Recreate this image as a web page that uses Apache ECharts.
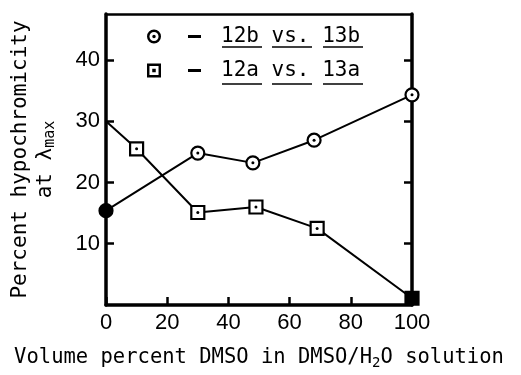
<!DOCTYPE html>
<html>
<head>
<meta charset="utf-8">
<script src="https://cdn.jsdelivr.net/npm/echarts@6/dist/echarts.min.js"></script>
<style>
  html, body { margin: 0; background: #fff; }
  #chart { width: 521px; height: 375px; }
</style>
</head>
<body>
<div id="chart"></div>
<script>
// values
const xTicks = [0, 20, 40, 60, 80, 100];
const yTicks = [10, 20, 30, 40];

const dmsoB = [0, 30, 48, 68, 100];
const hypoB = [15.4, 24.8, 23.2, 26.9, 34.3];

const dmsoA = [0, 10, 30, 49, 69, 100];
const hypoA = [30, 25.5, 15.1, 16, 12.5, 1.1];

const nameB = '12b vs. 13b';
const nameA = '12a vs. 13a';

const MONO = '"DejaVu Sans Mono", monospace';
const SANS = '"Liberation Sans", Arial, sans-serif';

const ringIcon = 'path://M0,-10 A10,10 0 1 1 0,10 A10,10 0 1 1 0,-10 Z M0,-6.5 A6.5,6.5 0 1 0 0,6.5 A6.5,6.5 0 1 0 0,-6.5 Z M0,-2.5 A2.5,2.5 0 1 1 0,2.5 A2.5,2.5 0 1 1 0,-2.5 Z';
const boxIcon = 'path://M-10,-10 L10,-10 L10,10 L-10,10 Z M-6.5,-6.5 L-6.5,6.5 L6.5,6.5 L6.5,-6.5 Z M-2.5,-2.5 L2.5,-2.5 L2.5,2.5 L-2.5,2.5 Z';

const dotLabel = {
  show: true,
  position: 'inside',
  formatter: '{d|}',
  rich: { d: { width: 3, height: 3, backgroundColor: '#000', borderRadius: 1.5 } }
};

function makePoints(xs, ys, filledIdx, hiddenIdx) {
  return xs.map((x, i) => {
    const p = { value: [x, ys[i]] };
    if (i === filledIdx) {
      p.itemStyle = { color: '#000' };
      p.label = { show: false };
    }
    if (i === hiddenIdx) {
      p.symbol = 'none';
      p.label = { show: false };
    }
    return p;
  });
}

const chart = echarts.init(document.getElementById('chart'));

const boxLine = { show: true, onZero: false, lineStyle: { color: '#000', width: 3.5 } };
const tickStyle = { color: '#000', width: 2.5 };

chart.setOption({
  animation: false,
  backgroundColor: '#fff',
  grid: { left: 106, right: 109, top: 14, bottom: 70 },
  legend: {
    left: 147,
    top: 26,
    orient: 'vertical',
    padding: 0,
    itemGap: 13,
    itemWidth: 16,
    itemHeight: 14,
    itemStyle: { color: '#000', borderWidth: 0 },
    data: [
      { name: nameB, icon: ringIcon },
      { name: nameA, icon: boxIcon }
    ],
    formatter: n => '{s1|}{d|}{s2|}{t|' + n + '}',
    textStyle: {
      color: '#000',
      rich: {
        s1: { width: 21, height: 3 },
        d: { width: 13, height: 3, backgroundColor: '#000' },
        s2: { width: 20, height: 3 },
        t: { fontFamily: MONO, fontSize: 21, lineHeight: 22, color: '#000' }
      }
    }
  },
  xAxis: [
    {
      type: 'value',
      min: 0, max: 100, interval: 20,
      name: '{n|Volume percent DMSO in DMSO/H}{s|2}{n|O solution}',
      nameLocation: 'middle',
      nameGap: 41,
      nameTextStyle: {
        rich: {
          n: { fontFamily: MONO, fontSize: 20.5, color: '#000', lineHeight: 22 },
          s: { fontFamily: MONO, fontSize: 14, color: '#000', padding: [10, 0, 0, 0] }
        }
      },
      axisLine: boxLine,
      axisTick: { show: true, inside: true, length: 8, lineStyle: tickStyle },
      axisLabel: { color: '#000', fontFamily: SANS, fontSize: 22, margin: 7 },
      splitLine: { show: false }
    },
    {
      type: 'value',
      position: 'top',
      min: 0, max: 100,
      axisLine: { show: true, onZero: false, lineStyle: { color: '#000', width: 2.5 } },
      axisTick: { show: false },
      axisLabel: { show: false },
      splitLine: { show: false }
    }
  ],
  yAxis: [
    {
      type: 'value',
      min: 0, max: 47.5,
      name: '{n|Percent hypochromicity}\n{n|at λ}{m|max}',
      nameLocation: 'middle',
      nameRotate: 90,
      nameGap: 48,
      nameTextStyle: {
        align: 'center',
        rich: {
          n: { fontFamily: MONO, fontSize: 21, color: '#000', lineHeight: 25 },
          m: { fontFamily: MONO, fontSize: 15, color: '#000', padding: [10, 0, 0, 0] }
        }
      },
      axisLine: boxLine,
      axisTick: { show: true, inside: true, length: 8, customValues: yTicks, lineStyle: tickStyle },
      axisLabel: { color: '#000', fontFamily: SANS, fontSize: 22, margin: 6, customValues: yTicks },
      splitLine: { show: false }
    },
    {
      type: 'value',
      position: 'right',
      min: 0, max: 47.5,
      axisLine: boxLine,
      axisTick: { show: true, inside: true, length: 8, customValues: yTicks, lineStyle: tickStyle },
      axisLabel: { show: false },
      splitLine: { show: false }
    }
  ],
  series: [
    {
      name: nameB,
      type: 'line',
      symbol: 'circle',
      symbolSize: 13,
      data: makePoints(dmsoB, hypoB, 0, -1),
      lineStyle: { color: '#000', width: 2 },
      itemStyle: { color: '#fff', borderColor: '#000', borderWidth: 2.2 },
      label: dotLabel,
      z: 3
    },
    {
      name: nameA,
      type: 'line',
      symbol: 'rect',
      symbolSize: 13,
      data: makePoints(dmsoA, hypoA, dmsoA.length - 1, 0),
      lineStyle: { color: '#000', width: 2 },
      itemStyle: { color: '#fff', borderColor: '#000', borderWidth: 2.2 },
      label: dotLabel,
      z: 3
    }
  ],
  graphic: [
    // underlines beneath the legend words
    { type: 'line', shape: { x1: 222, y1: 47, x2: 262, y2: 47 }, style: { stroke: '#000', lineWidth: 1.5 } },
    { type: 'line', shape: { x1: 272, y1: 47, x2: 312, y2: 47 }, style: { stroke: '#000', lineWidth: 1.5 } },
    { type: 'line', shape: { x1: 323, y1: 47, x2: 363, y2: 47 }, style: { stroke: '#000', lineWidth: 1.5 } },
    { type: 'line', shape: { x1: 222, y1: 84, x2: 262, y2: 84 }, style: { stroke: '#000', lineWidth: 1.5 } },
    { type: 'line', shape: { x1: 272, y1: 84, x2: 312, y2: 84 }, style: { stroke: '#000', lineWidth: 1.5 } },
    { type: 'line', shape: { x1: 323, y1: 84, x2: 363, y2: 84 }, style: { stroke: '#000', lineWidth: 1.5 } }
  ]
});
</script>
</body>
</html>
